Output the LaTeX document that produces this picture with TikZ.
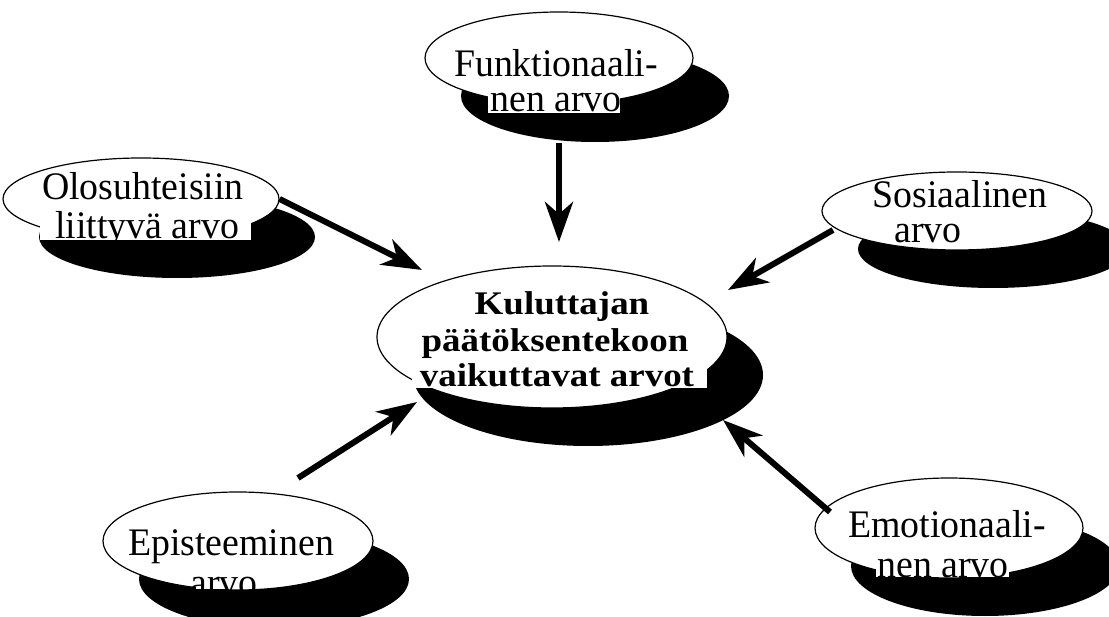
\documentclass[tikz,border=0pt]{standalone}
\usepackage{fontspec}
\setmainfont{Liberation Serif}
\newfontfamily\leaffont[FakeStretch=0.97]{Liberation Serif}
\newfontfamily\hubfont[FakeStretch=1.12]{Liberation Serif}
\usetikzlibrary{shapes.geometric,shadows,arrows.meta}

\begin{document}
\begin{tikzpicture}[x=1pt, y=-1pt,
  bubble/.style={ellipse, draw=black, line width=1.2pt, fill=white, inner sep=0pt,
    drop shadow={shadow xshift=36pt, shadow yshift=-38pt, opacity=1, fill=black}},
  leaf/.style={anchor=base, inner sep=0pt, text height=27pt, text depth=5pt,
    font=\leaffont\fontsize{39}{39}\selectfont},
  hub/.style={anchor=base, inner sep=0pt, text height=24pt, text depth=4pt,
    font=\hubfont\bfseries\fontsize{33}{33}\selectfont},
  conn/.style={line width=6pt, -{Stealth[length=40pt, width=28pt, inset=12pt]}},
  strip/.style={fill=white}
]
\useasboundingbox (0,0) rectangle (1109,617);
\fill[white] (0,0) rectangle (1109,617);

% value bubbles with their black drop shadows
\node[bubble, minimum width=268pt, minimum height=92pt]  (fun) at (559,58)  {};
\node[bubble, minimum width=276pt, minimum height=82pt]  (olo) at (141,199) {};
\node[bubble, minimum width=270pt, minimum height=78pt]  (soc) at (957,211) {};
\node[bubble, minimum width=350pt, minimum height=142pt] (cen) at (552,337) {};
\node[bubble, minimum width=270pt, minimum height=98pt]  (epi) at (238,541) {};
\node[bubble, minimum width=268pt, minimum height=100pt] (emo) at (949,528) {};

% white backing behind lines that run past the bubble outline
\fill[strip] (488,92)  rectangle (620,113);
\fill[strip] (40,212)  rectangle (251,240);
\fill[strip] (412,360) rectangle (707,388);
\fill[strip] (196,575) rectangle (252,589);
\fill[strip] (876,556) rectangle (1009,577);

% labels
\node[leaf] (funA) at (556,77)  {Funktionaali-};
\node[leaf] (funB) at (556,112) {nen arvo};
\node[leaf] (oloA) at (143,200) {Olosuhteisiin};
\node[leaf] (oloB) at (147,239) {liittyvä arvo};
\node[leaf] (socA) at (960,208) {Sosiaalinen};
\node[leaf] (socB) at (928,243) {arvo};
\node[hub]  (cenA) at (562,315) {Kuluttajan};
\node[hub]  (cenB) at (555,352) {päätöksentekoon};
\node[hub]  (cenC) at (557,387) {vaikuttavat arvot};
\node[leaf] (epiA) at (231,555) {Episteeminen};
\node[leaf] (epiB) at (224,595) {arvo};
\node[leaf] (emoA) at (947,537) {Emotionaali-};
\node[leaf] (emoB) at (943,577) {nen arvo};

% arrow end points
\coordinate (funOut) at (559,143);
\coordinate (funIn)  at (559,242);
\coordinate (oloIn)  at (422,270);
\coordinate (socOut) at (833,230);
\coordinate (socIn)  at (728,290);
\coordinate (epiOut) at (298,478);
\coordinate (epiIn)  at (417,402);
\coordinate (emoOut) at (830,512);
\coordinate (emoIn)  at (723,420);

% arrows towards the central bubble
\draw[conn] (funOut) -- (funIn);
\draw[conn] (olo.east) -- (oloIn);
\draw[conn] (socOut) -- (socIn);
\draw[conn] (epiOut) -- (epiIn);
\draw[conn] (emoOut) -- (emoIn);
\end{tikzpicture}
\end{document}
